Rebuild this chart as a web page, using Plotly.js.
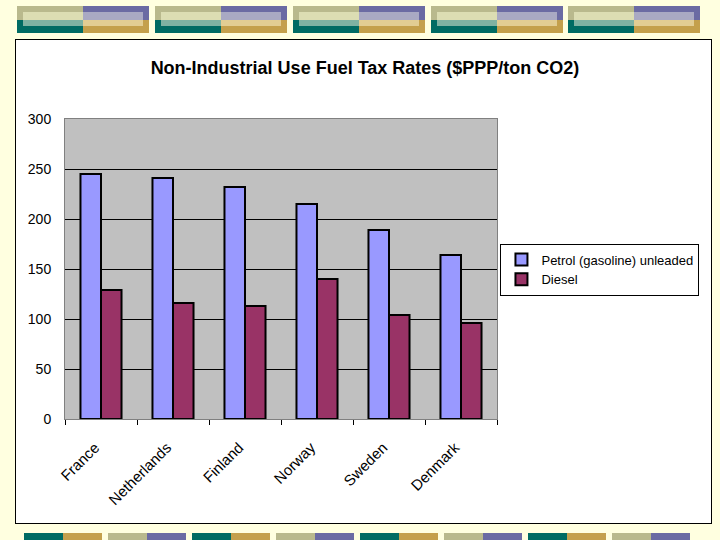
<!DOCTYPE html>
<html>
<head>
<meta charset="utf-8">
<script src="https://cdn.plot.ly/plotly-3.0.1.min.js"></script>
<style>
  html, body { margin:0; padding:0; }
  body { width:720px; height:540px; background:#FFFFE0; position:relative; overflow:hidden; font-family:"Liberation Sans", Arial, sans-serif; }
  .q { position:absolute; }
  #box { position:absolute; left:15px; top:39px; width:695px; height:483px; border:1px solid #000; background:#fff; }
  #chart { width:695px; height:483px; }
</style>
</head>
<body>
<div id="top"></div>
<div id="bottom"></div>
<div id="box"><div id="chart"></div></div>
<script>
// ---- data ----
const countries = ["France", "Netherlands", "Finland", "Norway", "Sweden", "Denmark"];
const petrol = [245, 241, 232, 215, 189, 164];
const diesel = [129, 116, 113, 140, 104, 96];
const seriesNames = ["Petrol (gasoline) unleaded", "Diesel"];
const yTicks = [0, 50, 100, 150, 200, 250, 300];
const titleText = "Non-Industrial Use Fuel Tax Rates ($PPP/ton CO2)";

// ---- decorative bands ----
function rect(parent, x, y, w, h, c) {
  const d = document.createElement('div');
  d.className = 'q';
  d.style.cssText = `left:${x}px;top:${y}px;width:${w}px;height:${h}px;background:${c};`;
  parent.appendChild(d);
}
const topEl = document.getElementById('top');
[17, 155, 293, 431, 568].forEach(x0 => {
  const hw = 66;
  rect(topEl, x0, 6, hw, 14, '#B9B98D');
  rect(topEl, x0 + hw, 6, hw, 14, '#6B6BA3');
  rect(topEl, x0, 20, hw, 13, '#006B63');
  rect(topEl, x0 + hw, 20, hw, 13, '#C4A04C');
  rect(topEl, x0 + 6, 12, hw - 6, 8, '#DCDDB3');
  rect(topEl, x0 + hw, 12, hw - 6, 8, '#A9A9C3');
  rect(topEl, x0 + 6, 20, hw - 6, 6, '#7FB2A2');
  rect(topEl, x0 + hw, 20, hw - 6, 6, '#E2CD93');
});
const botEl = document.getElementById('bottom');
[24, 108, 192, 276, 360, 444, 528, 612].forEach((x0, i) => {
  const a = i % 2 === 0 ? '#006B63' : '#B9B98D';
  const b = i % 2 === 0 ? '#C4A04C' : '#6B6BA3';
  rect(botEl, x0, 533, 39, 7, a);
  rect(botEl, x0 + 39, 533, 39, 7, b);
});

// ---- chart ----
const font = "Liberation Sans, Arial, sans-serif";
const traces = [
  { type:'bar', name:seriesNames[0], x:countries, y:petrol,
    marker:{color:'#9999FF', line:{color:'#000', width:2}} },
  { type:'bar', name:seriesNames[1], x:countries, y:diesel,
    marker:{color:'#993366', line:{color:'#000', width:2}} }
];
const layout = {
  width:695, height:483,
  margin:{l:49, t:79, r:214, b:104, autoexpand:false},
  paper_bgcolor:'#FFFFFF', plot_bgcolor:'#C0C0C0',
  font:{family:font, color:'#000', size:12},
  title:{text:'<b>' + titleText + '</b>', font:{family:font, size:18, color:'#000'},
         x:349/695, xanchor:'center', y:1 - 28/483, yanchor:'middle', xref:'container', yref:'container'},
  barmode:'group', bargap:0.43, bargroupgap:0,
  showlegend:true,
  legend:{x:1.008, xanchor:'left', y:0.585, yanchor:'top', bgcolor:'#fff',
          bordercolor:'#000', borderwidth:1, font:{family:font, size:13}, tracegroupgap:4},
  xaxis:{type:'category', tickangle:-45, tickfont:{family:font, size:15},
         showline:true, linecolor:'#808080', linewidth:1, mirror:true,
         ticks:'outside', tickson:'boundaries', ticklen:5, tickcolor:'#000',
         showgrid:false, ticklabelstandoff:13, ticklabelshift:-6},
  yaxis:{range:[0, 300], tickvals:yTicks, ticktext:yTicks.map(String),
         tickfont:{family:font, size:14}, showline:true, linecolor:'#808080', linewidth:1, mirror:true,
         showgrid:true, gridcolor:'#000', gridwidth:1, zeroline:false,
         ticks:'', ticklabelstandoff:10}
};
Plotly.newPlot('chart', traces, layout, {displayModeBar:false, staticPlot:true});
</script>
</body>
</html>
